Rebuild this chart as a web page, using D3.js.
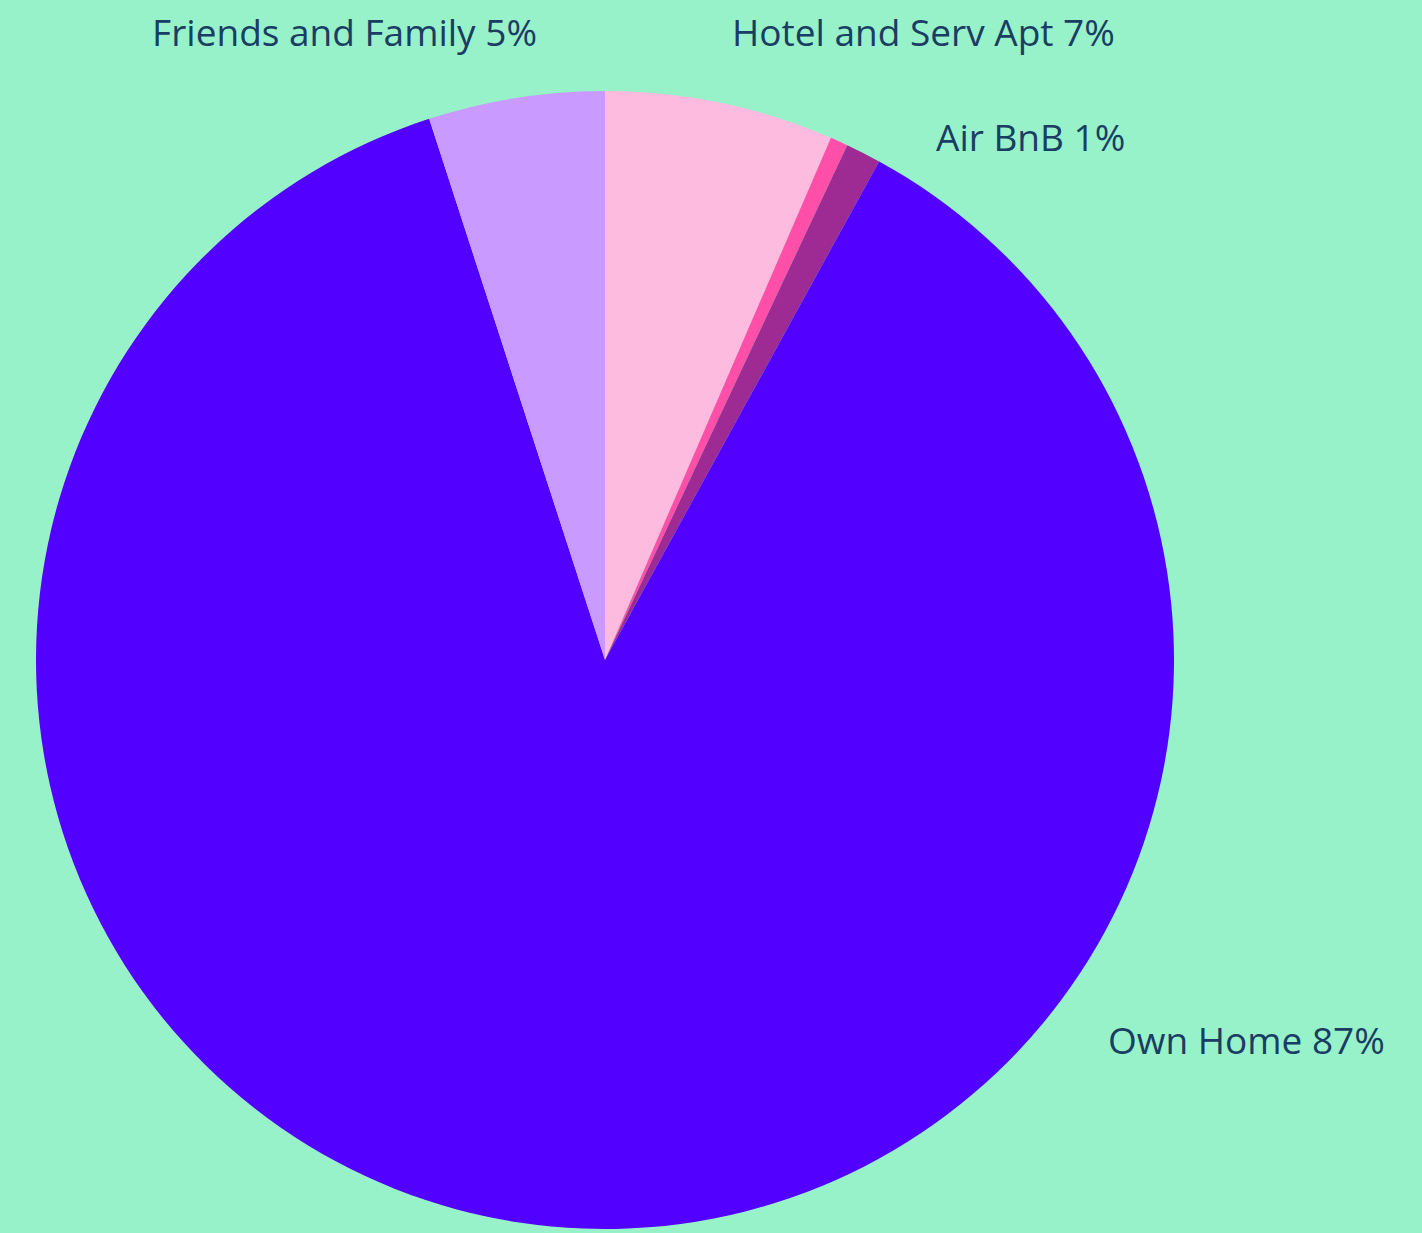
<!DOCTYPE html>
<html>
<head>
<meta charset="utf-8">
<script src="https://cdn.jsdelivr.net/npm/d3@7"></script>
<style>
html,body{margin:0;padding:0;background:#97F1C9;}
svg{display:block;}
</style>
</head>
<body>
<svg id="chart" width="1422" height="1233"></svg>
<script>
// Data (clockwise from 12 o'clock)
const categories = ["Hotel and Serv Apt", "Other", "Air BnB", "Own Home", "Friends and Family"];
const values = [6.5, 0.5, 1.0, 87.0, 5.0];
const labels = ["Hotel and Serv Apt 7%", "", "Air BnB 1%", "Own Home 87%", "Friends and Family 5%"];
const colors = ["#FDBBDF", "#FF4FA8", "#9E2A94", "#5200FF", "#C99AFF"];

// Layout (label anchors, not data)
const labelLayout = [
  {x: 732, y: 46, anchor: "start"},
  null,
  {x: 936, y: 151, anchor: "start"},
  {x: 1108, y: 1054, anchor: "start"},
  {x: 537, y: 46, anchor: "end"}
];

const W = 1422, H = 1233;
const cx = 605, cy = 660, R = 569;
const svg = d3.select("#chart");
svg.append("rect").attr("width", W).attr("height", H).attr("fill", "#97F1C9");

const data = categories.map((c, i) => ({cat: c, value: values[i], label: labels[i], color: colors[i], lay: labelLayout[i]}));
const pie = d3.pie().value(d => d.value).sort(null);
const arc = d3.arc().innerRadius(0).outerRadius(R);

const g = svg.append("g").attr("transform", `translate(${cx},${cy})`);
g.selectAll("path").data(pie(data)).join("path")
  .attr("d", arc)
  .attr("fill", d => d.data.color);

svg.selectAll("text.lbl").data(data.filter(d => d.label && d.lay)).join("text")
  .attr("class", "lbl")
  .attr("x", d => d.lay.x)
  .attr("y", d => d.lay.y)
  .attr("text-anchor", d => d.lay.anchor)
  .attr("font-family", "'Open Sans', sans-serif")
  .attr("font-size", 37)
  .attr("fill", "#1A3D63")
  .text(d => d.label);
</script>
</body>
</html>
